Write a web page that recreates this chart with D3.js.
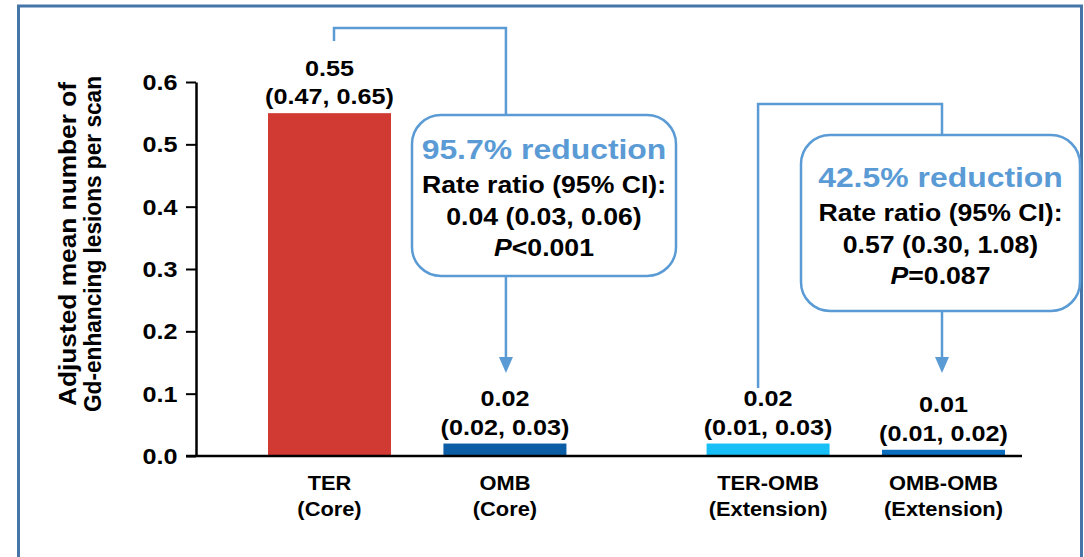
<!DOCTYPE html>
<html>
<head>
<meta charset="utf-8">
<script src="https://cdn.jsdelivr.net/npm/d3@7"></script>
<style>
  html, body { margin: 0; padding: 0; background: #ffffff; }
  svg { display: block; }
  text { font-family: Arial, "Liberation Sans", Helvetica, sans-serif; font-weight: bold; }
</style>
</head>
<body>
<svg id="chart" width="1084" height="557"></svg>
<script>
// Groups (core study and extension)
const categories = ["TER", "OMB", "TER-OMB", "OMB-OMB"];
const periods = ["(Core)", "(Core)", "(Extension)", "(Extension)"];
// Adjusted mean number of Gd-enhancing lesions per scan, with 95% CI
const means = [0.55, 0.02, 0.02, 0.01];
const ciLow = [0.47, 0.02, 0.01, 0.01];
const ciHigh = [0.65, 0.03, 0.03, 0.02];
// Horizontal slot of each group (gap between core and extension)
const slots = [0, 1, 2.5, 3.5];
const yTicks = [0, 0.1, 0.2, 0.3, 0.4, 0.5, 0.6];

// Pairwise comparisons
const compFrom = [0, 2];
const compTo = [1, 3];
const reductions = ["95.7% reduction", "42.5% reduction"];
const ratios = ["0.04 (0.03, 0.06)", "0.57 (0.30, 1.08)"];
const pSign = ["<", "="];
const pValues = ["0.001", "0.087"];

const barColors = ["#d13a33", "#0b5ea6", "#17bff6", "#0b6dbd"];
const accent = "#5b9bd5";
const frameColor = "#4676a7";
const SX = 1.12; // horizontal text stretch

const svg = d3.select("#chart");

// outer frame
svg.append("rect")
  .attr("x", 18.5).attr("y", 6).attr("width", 1063).attr("height", 600)
  .attr("fill", "none").attr("stroke", frameColor).attr("stroke-width", 3);

const x = d3.scaleLinear().domain([0, 3.5]).range([329.5, 943.5]);
const y = d3.scaleLinear().domain([0, 0.6]).range([456, 82]);
const barW = 123;

function label(g, tx, ty, str, size, color) {
  return g.append("text")
    .attr("transform", `translate(${tx},${ty}) scale(${SX},1)`)
    .attr("text-anchor", "middle")
    .attr("font-size", size)
    .attr("fill", color || "#000")
    .text(str);
}

// bars
svg.append("g").selectAll("rect")
  .data(means)
  .join("rect")
  .attr("x", (d, i) => x(slots[i]) - barW / 2)
  .attr("width", barW)
  .attr("y", d => y(d))
  .attr("height", d => y(0) - y(d))
  .attr("fill", (d, i) => barColors[i]);

// y axis
const yAxis = d3.axisLeft(y)
  .tickValues(yTicks)
  .tickFormat(d3.format(".1f"))
  .tickSize(10)
  .tickSizeOuter(0);
const gy = svg.append("g").attr("transform", "translate(196,0)").call(yAxis);
gy.select(".domain").attr("stroke", "#000").attr("stroke-width", 2.5);
gy.selectAll(".tick line").attr("stroke", "#000").attr("stroke-width", 2);
gy.selectAll(".tick text").remove();
yTicks.forEach(t => {
  svg.append("text")
    .attr("transform", `translate(177.5,${y(t) + 8}) scale(${SX},1)`)
    .attr("text-anchor", "end")
    .attr("font-size", 22.5)
    .text(d3.format(".1f")(t));
});

// baseline
svg.append("line")
  .attr("x1", 186).attr("x2", 1022)
  .attr("y1", y(0)).attr("y2", y(0))
  .attr("stroke", "#000").attr("stroke-width", 2.5);

// axis title
const title = svg.append("g").attr("transform", "translate(81,244) rotate(-90)");
title.append("text").attr("text-anchor", "middle").attr("y", -5)
  .attr("font-size", 22).attr("transform", "scale(1,1.1)")
  .attr("textLength", 324).attr("lengthAdjust", "spacingAndGlyphs")
  .text("Adjusted mean number of");
title.append("text").attr("text-anchor", "middle").attr("y", 18)
  .attr("font-size", 22).attr("transform", "scale(1,1.1)")
  .attr("textLength", 336).attr("lengthAdjust", "spacingAndGlyphs")
  .text("Gd-enhancing lesions per scan");

// value labels above bars
means.forEach((m, i) => {
  const cx = x(slots[i]);
  const base = y(m) - 9;
  label(svg, cx, base - 28.5, d3.format(".2f")(m), 22.5);
  label(svg, cx, base, `(${d3.format(".2f")(ciLow[i])}, ${d3.format(".2f")(ciHigh[i])})`, 22.5);
});

// category labels
categories.forEach((c, i) => {
  const cx = x(slots[i]);
  label(svg, cx, 490, c, 19.5);
  label(svg, cx, 516, periods[i], 19.5);
});

// comparison connectors and boxes
const compLayout = [
  { lx: x(slots[0]) + 4.5, rx: x(slots[1]) + 1, top: 28, leftEnd: 41, tip: 373,
    box: [412, 115, 264, 161] },
  { lx: x(slots[2]) - 10, rx: x(slots[3]) - 1.5, top: 104, leftEnd: 388, tip: 373,
    box: [801, 135, 279, 176] }
];

compFrom.forEach((from, k) => {
  const L = compLayout[k];
  const g = svg.append("g");
  g.append("path")
    .attr("d", `M${L.lx},${L.leftEnd} V${L.top} H${L.rx} V${L.tip - 15}`)
    .attr("fill", "none").attr("stroke", accent).attr("stroke-width", 2.5);
  // arrow head
  g.append("path")
    .attr("d", `M${L.rx - 7},${L.tip - 16} L${L.rx + 7},${L.tip - 16} L${L.rx},${L.tip} Z`)
    .attr("fill", accent);
  const [bx, by, bw, bh] = L.box;
  g.append("rect")
    .attr("x", bx).attr("y", by).attr("width", bw).attr("height", bh)
    .attr("rx", 29).attr("ry", 29)
    .attr("fill", "#fff").attr("stroke", accent).attr("stroke-width", 2.5);
  const cx = bx + bw / 2;
  const t0 = k === 0 ? 159 : 187;
  label(g, cx, t0, reductions[k], 28.5, accent);
  label(g, cx, t0 + 34, "Rate ratio (95% CI):", 23.8);
  label(g, cx, t0 + 65.5, ratios[k], 23.8);
  const pt = label(g, cx, t0 + 96.5, "", 23.8);
  pt.append("tspan").attr("font-style", "italic").text("P");
  pt.append("tspan").text(pSign[k] + pValues[k]);
});
</script>
</body>
</html>
